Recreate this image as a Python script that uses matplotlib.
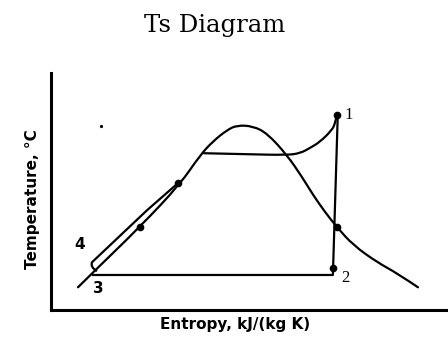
import matplotlib
matplotlib.use("Agg")
import matplotlib.pyplot as plt
from matplotlib.path import Path
from matplotlib.patches import PathPatch

# saturation dome (entropy kJ/(kg K), temperature C)
dome_s = [0.61, 1.00, 2.02, 2.93, 3.38, 3.67, 3.99, 4.22, 4.58, 4.90,
          5.35, 5.69, 5.94, 6.21, 6.48, 6.85, 7.39, 7.84, 8.32]
dome_T = [48, 84, 176, 266, 327, 356, 380, 390, 388, 373,
          327, 281, 243, 207, 175, 137, 101, 78, 48]

# boiling line + superheat up to state 1
boil_s = [3.45, 4.40, 5.35, 5.65, 5.87, 6.10, 6.37, 6.44, 6.48]
boil_T = [331, 329, 327, 331, 342, 355, 380, 394, 411]

# expansion 1-2 and condensation 2-3
turb_s = [6.50, 6.39, 0.95]
turb_T = [411, 74, 74]

# pump/feed heating leg starting from 3 (4)
feed_s = [1.04, 0.88, 0.93, 2.18, 2.88]
feed_T = [82, 91, 101, 211, 268]

dot_s = [6.48, 6.48, 6.39, 2.02, 2.88]
dot_T = [411, 175, 89, 176, 268]

state_labels = ["1", "2", "3", "4"]
label_s = [6.74, 6.68, 1.06, 0.64]
label_T = [411, 68, 46, 138]


def smooth_path(xs, ys):
    # quadratic B-spline: inner points act as control points
    pts = list(zip(xs, ys))
    verts = [pts[0]]
    codes = [Path.MOVETO]
    for i in range(1, len(pts) - 1):
        end = pts[i + 1] if i == len(pts) - 2 else (
            (pts[i][0] + pts[i + 1][0]) / 2, (pts[i][1] + pts[i + 1][1]) / 2)
        verts += [pts[i], end]
        codes += [Path.CURVE3, Path.CURVE3]
    return Path(verts, codes)


fig = plt.figure(figsize=(4.48, 3.37), dpi=100)
ax = fig.add_axes([0.114, 0.080, 0.886, 0.703])

lw = 1.6
ax.add_patch(PathPatch(smooth_path(dome_s, dome_T), fill=False,
                       edgecolor="black", lw=lw, capstyle="round"))
ax.add_patch(PathPatch(smooth_path(boil_s, boil_T), fill=False,
                       edgecolor="black", lw=lw))
ax.add_patch(PathPatch(smooth_path(feed_s[:3], feed_T[:3]), fill=False,
                       edgecolor="black", lw=lw))
ax.plot(feed_s[2:], feed_T[2:], color="black", lw=lw, solid_capstyle="round")
ax.plot(turb_s, turb_T, color="black", lw=lw)
ax.plot(dot_s, dot_T, "o", color="black", ms=4.5)
ax.plot([1.13], [388], "o", color="black", ms=1.3)

for txt, s, T in zip(state_labels, label_s, label_T):
    if txt in ("1", "2"):
        ax.text(s, T, txt, fontsize=12, family="Liberation Serif",
                ha="center", va="center")
    else:
        ax.text(s, T, txt, fontsize=11, fontweight="bold",
                ha="center", va="center")

ax.set_xlim(0, 9)
ax.set_ylim(0, 500)
ax.set_xticks([])
ax.set_yticks([])
ax.spines["top"].set_visible(False)
ax.spines["right"].set_visible(False)
ax.spines["left"].set_linewidth(2.2)
ax.spines["bottom"].set_linewidth(2.2)

fig.text(0.48, 0.925, "Ts Diagram", family="DejaVu Serif", fontsize=17.5,
         ha="center", va="center")
fig.text(0.525, 0.036, "Entropy, kJ/(kg K)", fontsize=11, fontweight="bold",
         ha="center", va="center")
fig.text(0.072, 0.41, "Temperature, \u00b0C", fontsize=11, fontweight="bold",
         ha="center", va="center", rotation=90)

fig.savefig("out.png", dpi=100)
